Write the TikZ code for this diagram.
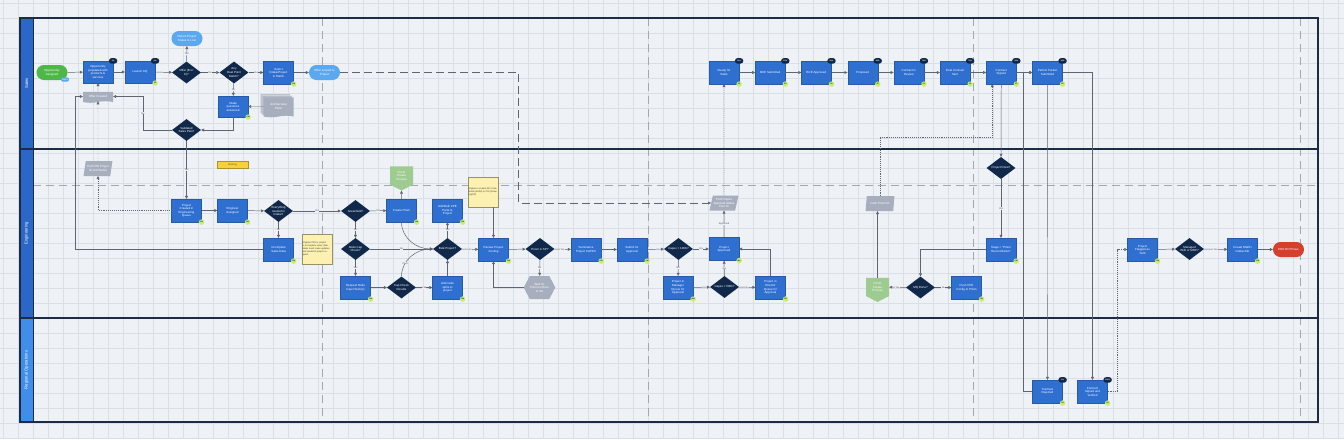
\documentclass[tikz,border=0pt]{standalone}
\usepackage{fontspec}
\setmainfont{Liberation Sans}
\usetikzlibrary{arrows.meta,positioning,shapes.geometric,shapes.symbols,shadows,calc}

\definecolor{canvas}{HTML}{EEF1F5}
\definecolor{gridcol}{HTML}{DADFE6}
\definecolor{laneline}{HTML}{1E2B45}
\definecolor{headblue}{HTML}{2B67C7}
\definecolor{headlight}{HTML}{3F8EEA}
\definecolor{procblue}{HTML}{2F6FCF}
\definecolor{decnavy}{HTML}{10284A}
\definecolor{skyblue}{HTML}{5AA8F0}
\definecolor{startgreen}{HTML}{4DB848}
\definecolor{endred}{HTML}{D63E2E}
\definecolor{docgray}{HTML}{A7AFBE}
\definecolor{prismgreen}{HTML}{9DCB90}
\definecolor{notey}{HTML}{FCF1B0}
\definecolor{workingy}{HTML}{F6D13A}
\definecolor{badgegreen}{HTML}{C8EE6A}
\definecolor{connector}{HTML}{5F6670}
\definecolor{divider}{HTML}{A3A8AF}

\newcommand{\boxtxt}{\fontsize{4.2}{5}\selectfont}
\newcommand{\labtxt}{\fontsize{3.4}{4}\selectfont}
\newcommand{\notetxt}{\fontsize{3.3}{4}\selectfont}
\newcommand{\badgetxt}{\fontsize{2.6}{3}\selectfont\bfseries}

% badges on the corners of a box
\newcommand{\pctbadge}[2]{\node[pctbadge] (#1-pct) at (#1.north east) {#2};}
\newcommand{\whobadge}[2]{\node[whobadge] (#1-who) at (#1.south east) {#2};}

\begin{document}
\begin{tikzpicture}[
    x=0.05cm, y=-0.05cm,
    node distance=0.8cm,
    procbox/.style={draw=procblue!80!black, line width=0.3pt, fill=procblue, text=white,
      font=\boxtxt, align=center, minimum width=1.5cm, minimum height=1.15cm, inner sep=0.5pt},
    decision/.style={diamond, aspect=1.3, fill=decnavy, text=white, font=\boxtxt,
      align=center, minimum width=1.45cm, minimum height=1.1cm, inner sep=0pt},
    terminal/.style={rounded corners=0.37cm, fill=#1, text=white, font=\boxtxt,
      align=center, minimum width=1.55cm, minimum height=0.75cm, inner sep=0.5pt},
    docshape/.style={tape, tape bend top=none, tape bend height=0.08cm, fill=docgray,
      text=white, font=\boxtxt, align=center, minimum width=1.5cm, minimum height=0.55cm, inner sep=0.5pt},
    multidoc/.style={docshape, minimum height=1.0cm,
      double copy shadow={shadow xshift=-0.08cm, shadow yshift=0.08cm, fill=docgray!85, draw=white}},
    datashape/.style={trapezium, trapezium left angle=72, trapezium right angle=108,
      trapezium stretches=true, fill=docgray, text=white, font=\boxtxt, align=center,
      minimum width=1.45cm, minimum height=0.75cm, inner sep=0.5pt},
    offpage/.style={signal, signal to=south, signal from=nowhere, signal pointer angle=125,
      fill=prismgreen, text=white, font=\boxtxt, align=center,
      minimum width=1.15cm, minimum height=1.05cm, inner sep=0.5pt},
    waitshape/.style={signal, signal to=east and west, signal pointer angle=125,
      fill=docgray, text=white, font=\boxtxt, align=center,
      minimum width=1.55cm, minimum height=1.15cm, inner sep=0.5pt},
    notebox/.style={fill=notey, draw=notey!60!black, line width=0.2pt, text=black!75,
      font=\notetxt, align=left, text width=1.45cm, minimum height=1.5cm, inner sep=1pt},
    tagbox/.style={rounded corners=0.1cm, fill=skyblue, text=white, font=\labtxt,
      minimum width=0.4cm, minimum height=0.22cm, inner sep=0.3pt},
    workingbox/.style={fill=workingy, draw=workingy!70!black, line width=0.2pt, text=black!70,
      font=\labtxt, minimum width=1.55cm, minimum height=0.35cm, inner sep=0.3pt},
    pctbadge/.style={rounded corners=0.14cm, fill=decnavy, text=white, font=\badgetxt,
      minimum width=0.42cm, minimum height=0.28cm, inner sep=0pt},
    whobadge/.style={circle, fill=badgegreen, text=decnavy, font=\badgetxt,
      minimum size=0.27cm, inner sep=0pt},
    lanetitle/.style={rotate=90, text=white, font=\fontsize{6}{7}\selectfont},
    flowlabel/.style={font=\labtxt, text=black!70, fill=canvas, inner sep=0.4pt},
    flow/.style={draw=connector, line width=0.7pt, -{Triangle[length=1.5mm, width=1.4mm]}},
    dotflow/.style={flow, dotted},
    dashflow/.style={flow, dash pattern=on 4mm off 2mm},
    gridline/.style={draw=gridcol, line width=0.5pt},
    divider/.style={draw=divider, line width=0.9pt, dash pattern=on 4mm off 2.5mm}
  ]
  \useasboundingbox (0,0) rectangle (1344,439);

  % canvas with grid
  \fill[canvas] (0,0) rectangle (1344,439);
  \foreach \gx in {3,18,...,1344} \draw[gridline] (\gx,0) -- (\gx,439);
  \foreach \gy in {3,18,...,439} \draw[gridline] (0,\gy) -- (1344,\gy);

  % phase dividers
  \draw[divider] (33,185) -- (1318,185);
  \foreach \dx in {322,648,973,1300} \draw[divider] (\dx,18) -- (\dx,422);

  % swimlanes
  \fill[headblue] (20,18) rectangle (33,318);
  \fill[headlight] (20,318) rectangle (33,422);
  \draw[laneline, line width=1.6pt] (20,18) rectangle (1318,422);
  \draw[laneline, line width=1.6pt] (20,149) -- (1318,149);
  \draw[laneline, line width=1.6pt] (20,318) -- (1318,318);
  \draw[laneline, line width=0.6pt] (33,18) -- (33,422);
  \node[lanetitle] (salestitle) at (26.5,83.5) {Sales};
  \node[lanetitle] (engtitle) at (26.5,233.5) {Engineering};
  \node[lanetitle] (regtitle) at (26.5,370) {Regional Operations};

  % Sales lane
  \node[terminal=startgreen] (oppassigned) at (52,72.5) {Opportunity\\Assigned};
  \node[tagbox] (salestag) at (65,79.5) {Sales};
  \node[procbox, minimum height=1.1cm] (opppop) at (98,72) {Opportunity\\populated with\\products \&\\services};
  \node[procbox, minimum height=1.1cm] (launchcq) at (140,72) {Launch CQ};
  \node[decision] (offerbc) at (186.5,72.5) {Offer (B or\\C)?};
  \node[terminal=skyblue] (lost) at (187,38.5) {Return Project\\Status to Lost};
  \node[decision] (dealmatch) at (234,72.5) {Any\\Deal Point\\Match?};
  \node[procbox] (selectintake) at (278.5,72.5) {Select\\Intake/Project\\to Match};
  \node[terminal=skyblue] (offerlocked) at (324.5,72.5) {Offer Locked to\\Project};
  \node[docshape] (offercreated) at (98,96.5) {Offer Created};
  \node[procbox, minimum height=1.05cm] (intakeq) at (233,106.5) {Intake\\questions\\answered};
  \node[multidoc] (archplans) at (278.5,106.5) {Architectural\\Plans};
  \node[decision] (validplan) at (186.5,130) {Validated\\Sales Plan?};
  \pctbadge{opppop}{0\%}
  \pctbadge{launchcq}{0\%}
  \whobadge{launchcq}{SP}
  \whobadge{selectintake}{OM}
  \whobadge{intakeq}{OM}

  \node[procbox] (readysales) at (724,72.5) {Ready for\\Sales};
  \node[procbox, right=of readysales] (bcesub) {BCE Submitted};
  \node[procbox, right=of bcesub] (bceappr) {BCE Approved};
  \node[procbox, right=of bceappr] (proposed) {Proposed};
  \node[procbox, right=of proposed] (contractreview) {Contract in\\Review};
  \node[procbox, right=of contractreview] (finalsent) {Final Contract\\Sent};
  \node[procbox, right=of finalsent] (contractsigned) {Contract\\Signed};
  \node[procbox, right=of contractsigned] (perfectpacket) {Perfect Packet\\Submitted};
  \pctbadge{readysales}{50\%}   \whobadge{readysales}{SP}
  \pctbadge{bcesub}{55\%}       \whobadge{bcesub}{SP}
  \pctbadge{bceappr}{60\%}      \whobadge{bceappr}{SP}
  \pctbadge{proposed}{65\%}     \whobadge{proposed}{SP}
  \pctbadge{contractreview}{70\%} \whobadge{contractreview}{SP}
  \pctbadge{finalsent}{75\%}    \whobadge{finalsent}{SP}
  \pctbadge{contractsigned}{90\%} \whobadge{contractsigned}{SP}
  \pctbadge{perfectpacket}{95\%} \whobadge{perfectpacket}{SP}

  % Engineering lane
  \node[datashape] (pushcrm) at (98,168.5) {Push OD Project\\ID and Status};
  \node[workingbox] (working) at (232.5,164.5) {Working};
  \node[procbox] (projcreated) at (186.5,210.5) {Project\\Created in\\Engineering\\Queue};
  \node[procbox] (engassigned) at (232.5,210.5) {Engineer\\Assigned};
  \node[decision] (everything) at (278.5,211) {Everything\\needed in\\Intake?};
  \node[procbox] (incomplete) at (278.5,249.5) {Incomplete\\Sales Data};
  \node[notebox] (incnote) at (317,249) {Engineer fills in project in incomplete sales data. Sales must make updates and resubmit project request.};
  \node[decision] (greenfield) at (355.5,211) {Greenfield?};
  \node[procbox] (createprism) at (401.5,210.5) {Create Prism};
  \node[offpage] (prismcreate1) at (401.5,175.5) {Prism\\Create\\Process};
  \node[decision] (nodecap) at (355.5,249) {Node Cap\\Check?};
  \node[decision] (bulkproj) at (447.5,249) {Bulk Project?};
  \node[procbox] (addbulk) at (447.5,210.5) {Add Bulk CPE\\Parts to\\Project};
  \node[notebox] (bomnote) at (483,192) {Engineer creates bill of materials (BOM) in CDI (Drawing/SP)};
  \node[procbox] (reviewcost) at (493.5,249.5) {Review Project\\Costing};
  \node[procbox] (reqnodecap) at (355.5,287.5) {Request Node\\Cap Check(s)};
  \node[decision] (capresults) at (401.5,287.5) {Cap Check\\Results};
  \node[procbox] (addsplits) at (447.5,287.5) {Add node\\splits to\\project};
  \node[decision] (prisminsp) at (540,249) {Prism in SP?};
  \node[waitshape] (waitprism) at (539.5,287.5) {Wait for\\Prism to Move\\to SA};
  \node[procbox] (summcapex) at (586,249.5) {Summarize\\Project CAPEX};
  \node[procbox] (submitappr) at (632,249.5) {Submit for\\Approval};
  \node[decision] (capex100) at (678.5,249) {Capex < 100K?};
  \node[procbox] (projappr) at (724,249) {Project\\Approved};
  \node[datashape] (pushcapex) at (724,203) {Push Capex\\Approval Status\\from ID};
  \node[procbox] (mgrqueue) at (678,287.5) {Project in\\Manager\\Queue for\\Approval};
  \node[decision] (capex500) at (724.5,287) {Capex < 500k?};
  \node[procbox] (dirqueue) at (770.5,287.5) {Project in\\Director\\Queue for\\Approval};
  \node[decision] (projdone) at (1001,168) {Project Done?};
  \node[datashape] (pushprismid) at (880,203.5) {Push Prism ID};
  \node[procbox] (stagerecon) at (1001,249.5) {Stage = "Prism\\Reconciliation"};
  \node[decision] (mqdone) at (920.5,287.5) {MQ Done?};
  \node[offpage] (prismcreate2) at (877.5,287) {Prism\\Create\\Process};
  \node[procbox] (pushcpe) at (966.5,287.5) {Push CPE\\Config to Prism};
  \node[procbox] (flaggedsold) at (1142.5,249.5) {Project\\Flagged as\\Sold};
  \node[decision] (mwifi) at (1189.5,249) {Managed\\WiFi or MDP?};
  \node[procbox] (createmwifi) at (1242.5,249.5) {Create MWiFi\\Intake/Job};
  \node[terminal=endred] (endphase) at (1288.5,249.5) {END OD Phase};
  \whobadge{projcreated}{DB}
  \whobadge{engassigned}{DB}
  \whobadge{incomplete}{OM}
  \whobadge{createprism}{OM}
  \whobadge{addbulk}{OM}
  \whobadge{reqnodecap}{OM}
  \whobadge{addsplits}{OM}
  \whobadge{reviewcost}{OM}
  \whobadge{summcapex}{OM}
  \whobadge{submitappr}{OM}
  \whobadge{projappr}{MG}
  \whobadge{mgrqueue}{MM}
  \whobadge{dirqueue}{DD}
  \whobadge{stagerecon}{OM}
  \whobadge{pushcpe}{DB}
  \whobadge{flaggedsold}{OM}
  \whobadge{createmwifi}{OM}

  % Regional Operations lane
  \node[procbox] (rejected) at (1047.5,391.5) {Contract\\Rejected};
  \node[procbox] (verified) at (1092.5,391.5) {Contract\\Signed and\\Verified};
  \pctbadge{rejected}{0\%}    \whobadge{rejected}{SA}
  \pctbadge{verified}{100\%}  \whobadge{verified}{SA}

  % connectors, sales
  \draw[flow] (oppassigned) -- (opppop);
  \draw[flow] (opppop) -- (launchcq);
  \draw[flow] (launchcq) -- (offerbc);
  \draw[flow] (offerbc) -- node[flowlabel]{Yes} (lost);
  \draw[flow] (offerbc) -- node[flowlabel]{No} (dealmatch);
  \draw[flow] (dealmatch) -- node[flowlabel]{Yes} (selectintake);
  \draw[flow] (dealmatch) -- node[flowlabel]{No} (intakeq);
  \draw[flow] (selectintake) -- (offerlocked);
  \draw[flow] (archplans) -- (intakeq);
  \draw[flow] (intakeq.south) |- (validplan.east);
  \draw[flow] (validplan.west) -- ++(-29,0) |- node[flowlabel, pos=0.25]{No} (offercreated.east);
  \draw[flow] (offercreated) -- (opppop);
  \draw[flow] (validplan) -- node[flowlabel]{Yes} (projcreated);
  \draw[dashflow] (offerlocked.east) -- ++(178,0) |- (pushcapex.west);
  \draw[dotflow] (projcreated.west) -| (pushcrm.south);
  \draw[dotflow] (pushcrm.north) -- (offercreated.south);
  \draw[flow] (incomplete.west) -- ++(-188,0) |- (offercreated.west);
  \draw[flow] (readysales) -- (bcesub);
  \draw[flow] (bcesub) -- (bceappr);
  \draw[flow] (bceappr) -- (proposed);
  \draw[flow] (proposed) -- (contractreview);
  \draw[flow] (contractreview) -- (finalsent);
  \draw[flow] (finalsent) -- (contractsigned);
  \draw[flow] (contractsigned) -- (perfectpacket);

  % connectors, engineering
  \draw[flow] (projcreated) -- (engassigned);
  \draw[flow] (engassigned) -- (everything);
  \draw[flow] (everything) -- node[flowlabel]{Yes} (greenfield);
  \draw[flow] (everything) -- node[flowlabel]{No} (incomplete);
  \draw[flow] (greenfield) -- node[flowlabel]{Yes} (createprism);
  \draw[flow] (greenfield) -- node[flowlabel]{No} (nodecap);
  \draw[flow] (createprism) -- (prismcreate1);
  \draw[flow] (nodecap) -- node[flowlabel]{No} (bulkproj);
  \draw[flow] (nodecap) -- node[flowlabel]{Yes} (reqnodecap);
  \draw[flow] (reqnodecap) -- (capresults);
  \draw[flow] (capresults) -- node[flowlabel]{Fail} (addsplits);
  \draw[flow] (capresults.north) to[out=90, in=180] node[flowlabel, pos=0.3]{Pass} (bulkproj.west);
  \draw[flow] (createprism.south) to[out=-90, in=180] (bulkproj.west);
  \draw[flow] (addsplits) -- (bulkproj);
  \draw[flow] (bulkproj) -- node[flowlabel]{Yes} (addbulk);
  \draw[flow] (bulkproj) -- node[flowlabel]{No} (reviewcost);
  \draw[flow] (reviewcost.north |- bomnote.south) -- (reviewcost.north);
  \draw[flow] (reviewcost) -- (prisminsp);
  \draw[flow] (prisminsp) -- node[flowlabel]{Yes} (summcapex);
  \draw[flow] (prisminsp) -- node[flowlabel]{No} (waitprism);
  \draw[flow] (waitprism.west) -| (reviewcost.south);
  \draw[flow] (summcapex) -- (submitappr);
  \draw[flow] (submitappr) -- (capex100);
  \draw[flow] (capex100) -- node[flowlabel]{Yes} (projappr);
  \draw[flow] (capex100) -- node[flowlabel]{No} (mgrqueue);
  \draw[flow] (mgrqueue) -- (capex500);
  \draw[flow] (capex500) -- node[flowlabel]{Yes} (projappr);
  \draw[flow] (capex500) -- node[flowlabel]{No} (dirqueue);
  \draw[flow] (dirqueue.north) |- (projappr.east);
  \draw[flow] (projappr) -- node[flowlabel]{Approved} (pushcapex);
  \draw[dotflow] (pushcapex) -- (readysales);
  \draw[flow] (contractsigned.south) -- (projdone);
  \draw[dotflow] (pushprismid.north) -- ++(0,-59) -| ($(contractsigned.south)+(-9,0)$);
  \draw[flow] (projdone) -- node[flowlabel]{Yes} (stagerecon);
  \draw[flow] (stagerecon.west) -| (mqdone.north);
  \draw[flow] (mqdone) -- node[flowlabel]{Yes} (prismcreate2);
  \draw[flow] (mqdone) -- node[flowlabel]{No} (pushcpe);
  \draw[flow] (prismcreate2.north) -- (prismcreate2.north |- pushprismid.south);
  \draw[flow] (flaggedsold) -- (mwifi);
  \draw[flow] (mwifi) -- node[flowlabel]{Yes} (createmwifi);
  \draw[flow] (createmwifi) -- (endphase);

  % connectors, regional operations
  \draw[flow] (perfectpacket.south) -- (rejected.north);
  \draw[flow] (perfectpacket.east) -| (verified.north);
  \draw[flow] (rejected.west) -- ++(-9,0) |- (perfectpacket.west);
  \draw[dotflow] (verified.east) -- ++(10,0) |- (flaggedsold.west);
\end{tikzpicture}
\end{document}
